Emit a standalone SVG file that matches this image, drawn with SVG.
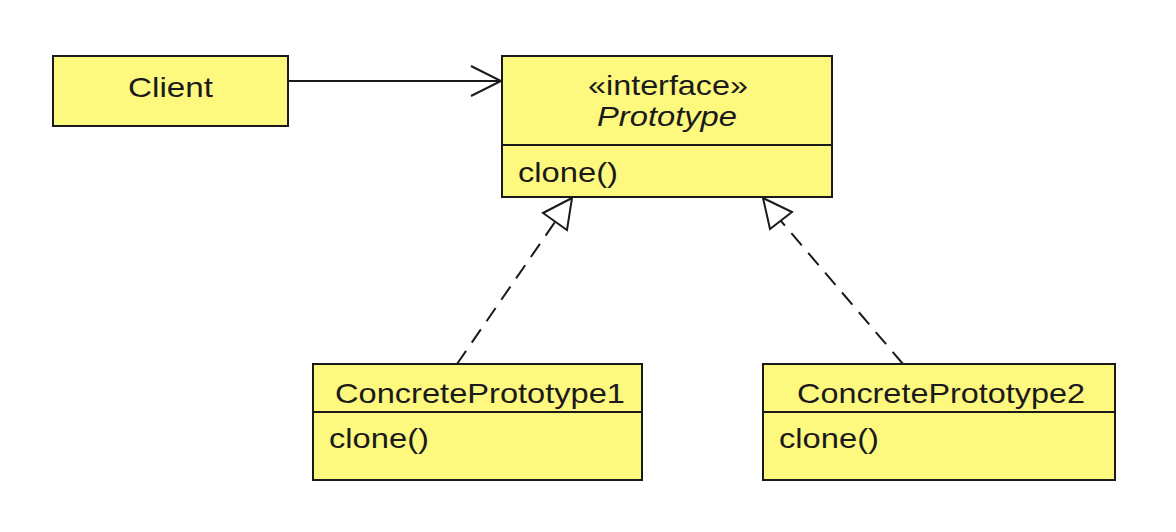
<svg xmlns="http://www.w3.org/2000/svg" width="1176" height="532" viewBox="0 0 1176 532">
  <style>
    .box { fill: #fdf87e; stroke: #1a1a1a; stroke-width: 2; }
    .div { stroke: #1a1a1a; stroke-width: 2; }
    .t { font-family: "Liberation Sans", Arial, sans-serif; font-size: 28px; fill: #1a1a1a; }
    .c { text-anchor: middle; }
    .it { font-style: italic; }
    .edge { fill: none; stroke: #1a1a1a; stroke-width: 2; }
    .dash { stroke-dasharray: 16 10; }
    .head { fill: #ffffff; stroke: #1a1a1a; stroke-width: 2; stroke-linejoin: miter; }
  </style>
  <rect width="1176" height="532" fill="#ffffff"/>

  <!-- connectors -->
  <g id="connectors">
    <!-- association: Client -> Prototype -->
    <line class="edge" x1="288" y1="81" x2="501" y2="81"/>
    <polyline class="edge" points="471,66 501,81 471,96"/>
    <!-- realization: ConcretePrototype1 -> Prototype -->
    <line class="edge dash" x1="457" y1="364" x2="555" y2="222"/>
    <polygon class="head" points="572,198 543,213 567,230"/>
    <!-- realization: ConcretePrototype2 -> Prototype -->
    <line class="edge dash" x1="903" y1="364" x2="781" y2="221"/>
    <polygon class="head" points="763,198 792,212 770,229"/>
  </g>

  <g id="client">
    <rect class="box" x="53" y="56" width="235" height="70"/>
    <text class="t c" x="170.5" y="97" textLength="85" lengthAdjust="spacingAndGlyphs">Client</text>
  </g>

  <g id="prototype">
    <rect class="box" x="502" y="56" width="330" height="141"/>
    <line class="div" x1="502" y1="145" x2="832" y2="145"/>
    <text class="t c" x="668" y="95" textLength="160" lengthAdjust="spacingAndGlyphs">«interface»</text>
    <text class="t c it" x="667" y="126" textLength="140" lengthAdjust="spacingAndGlyphs">Prototype</text>
    <text class="t" x="518" y="182" textLength="100" lengthAdjust="spacingAndGlyphs">clone()</text>
  </g>

  <g id="concrete1">
    <rect class="box" x="313" y="364" width="329" height="116"/>
    <line class="div" x1="313" y1="412" x2="642" y2="412"/>
    <text class="t c" x="480" y="403" textLength="290" lengthAdjust="spacingAndGlyphs">ConcretePrototype1</text>
    <text class="t" x="329" y="448" textLength="100" lengthAdjust="spacingAndGlyphs">clone()</text>
  </g>

  <g id="concrete2">
    <rect class="box" x="763" y="364" width="352" height="116"/>
    <line class="div" x1="763" y1="412" x2="1115" y2="412"/>
    <text class="t c" x="941" y="403" textLength="288" lengthAdjust="spacingAndGlyphs">ConcretePrototype2</text>
    <text class="t" x="779" y="448" textLength="100" lengthAdjust="spacingAndGlyphs">clone()</text>
  </g>
</svg>
